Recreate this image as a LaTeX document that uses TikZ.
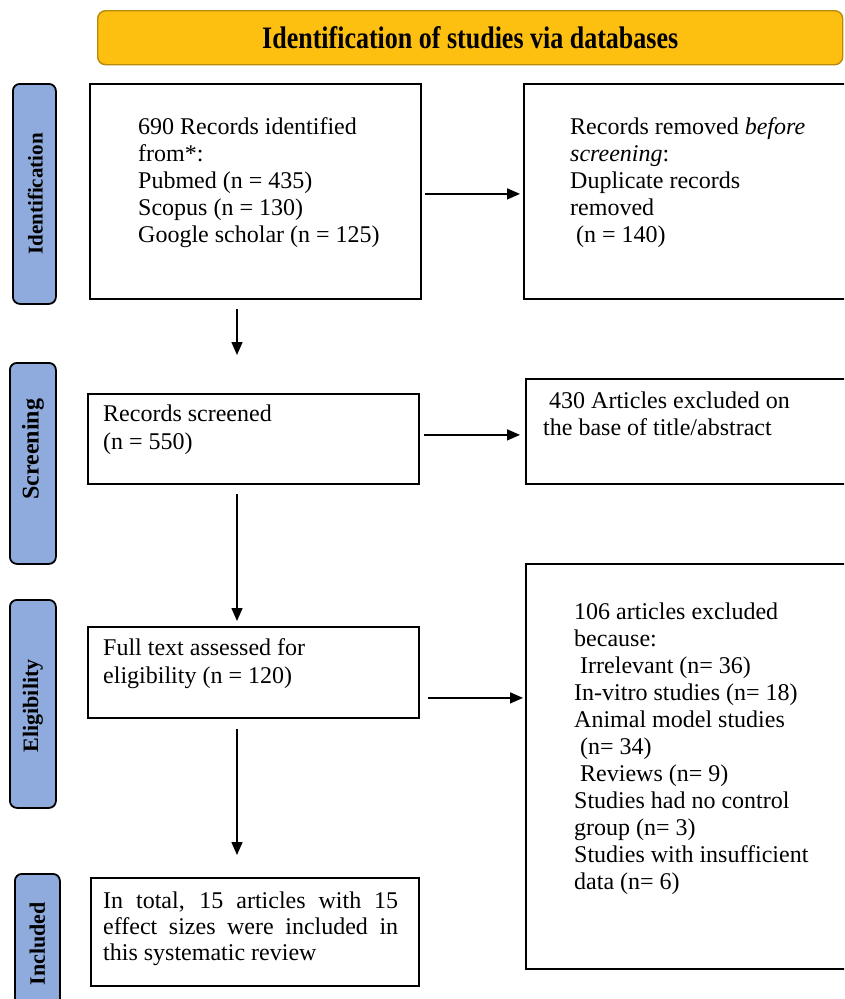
\documentclass[tikz,border=0pt]{standalone}
\usepackage{fontspec}
\usepackage{graphicx}
\setmainfont{Liberation Serif}
\usetikzlibrary{arrows.meta,calc}
\definecolor{bannerfill}{HTML}{FDC010}
\definecolor{bannerdraw}{HTML}{B8890C}
\definecolor{stagefill}{HTML}{8FAADC}
\begin{document}
\begin{tikzpicture}[x=1pt,y=-1pt,
  box/.style={draw=black,line width=1.8pt,inner sep=0pt,anchor=north west},
  banner/.style={draw=bannerdraw,line width=1.4pt,fill=bannerfill,rounded corners=8pt,inner sep=0pt,anchor=north west},
  stage/.style={draw=black,line width=1.8pt,fill=stagefill,rounded corners=7pt,inner sep=0pt,anchor=north west},
  stagetxt/.style={rotate=90,inner sep=0pt},
  txt/.style={anchor=north west,inner sep=0pt,align=left,font=\fontsize{24}{27}\selectfont},
  arr/.style={line width=1.5pt,-{Triangle[length=13pt,width=11pt]}}]
\useasboundingbox (0,0) rectangle (844,999);
\clip (0,0) rectangle (844,999);
\fill[white] (0,0) rectangle (844,999);

% banner
\node[banner,minimum width=745pt,minimum height=54pt] (ban) at (97,10)
  {\fontsize{26}{30}\selectfont\bfseries\scalebox{1}[1.2]{Identification of studies via databases}};

% stage labels
\node[stage,minimum width=43pt,minimum height=220pt] (L1) at (12,83) {};
\node[stage,minimum width=46pt,minimum height=201pt] (L2) at (9,362) {};
\node[stage,minimum width=46pt,minimum height=208pt] (L3) at (9,599) {};
\node[stage,minimum width=45pt,minimum height=140pt] (L4) at (14,873) {};
\node[stagetxt,font=\fontsize{21}{25}\selectfont\bfseries] (s1) at ($(L1.center)+(1,0)$) {Identification};
\node[stagetxt,font=\fontsize{24}{28}\selectfont\bfseries] (s2) at ($(L2.center)+(0,-14)$) {Screening};
\node[stagetxt,font=\fontsize{22}{26}\selectfont\bfseries] (s3) at ($(L3.center)+(0,2)$) {Eligibility};
\node[stagetxt,font=\fontsize{22}{26}\selectfont\bfseries] (s4) at ($(L4.center)+(0,0)$) {Included};

% boxes
\node[box,minimum width=331pt,minimum height=215pt] (b1) at (89,83) {};
\node[box,minimum width=330pt,minimum height=215pt] (b2) at (523,83) {};
\node[box,minimum width=331pt,minimum height=90pt] (b3) at (87,393) {};
\node[box,minimum width=330pt,minimum height=105pt] (b4) at (525,378) {};
\node[box,minimum width=331pt,minimum height=91pt] (b5) at (87,626) {};
\node[box,minimum width=330pt,minimum height=405pt] (b6) at (525,563) {};
\node[box,minimum width=328pt,minimum height=108pt] (b7) at (90,877) {};

% texts
\node[txt] (t1) at (138,115.1) {\strut 690 Records identified\\from*:\\Pubmed (n = 435)\\Scopus (n = 130)\\Google scholar (n = 125)};
\node[txt] (t2) at (570,115.1) {\strut Records removed \textit{before}\\\textit{screening}:\\Duplicate records\\removed\\\hspace*{6pt}(n = 140)};
\node[txt,font=\fontsize{24}{28}\selectfont] (t3) at (103,401.4) {\strut Records screened\\(n = 550)};
\node[txt] (t4) at (543,389.1) {\strut\hspace*{6pt}430 Articles excluded on\\the base of title/abstract};
\node[txt,font=\fontsize{24}{28}\selectfont] (t5) at (103,635.4) {\strut Full text assessed for\\eligibility (n = 120)};
\node[txt] (t6) at (574,600.1) {\strut 106 articles excluded\\because:\\\hspace*{6pt}Irrelevant (n= 36)\\In-vitro studies (n= 18)\\Animal model studies\\\hspace*{6pt}(n= 34)\\\hspace*{6pt}Reviews (n= 9)\\Studies had no control\\group (n= 3)\\Studies with insufficient\\data (n= 6)};
\node[txt,font=\fontsize{24}{26}\selectfont] (t7) at (103,889.8) {\strut\makebox[295pt][s]{In total, 15 articles with 15}\\\makebox[295pt][s]{effect sizes were included in}\\this systematic review};

% connectors
\coordinate (colx) at (237,0);
\draw[arr] ($(b1.east)+(3,2.5)$) -- ($(b2.west)+(-3,2.5)$);
\draw[arr] ($(b3.east)+(4,-4)$) -- ($(b4.west |- b3.east)+(-5,-4)$);
\draw[arr] ($(b5.east)+(8,25.5)$) -- ($(b6.west |- b5.east)+(-2,25.5)$);
\draw[arr] ($(b1.south -| colx)+(0,9)$) -- ($(b3.north -| colx)+(0,-38)$);
\draw[arr] ($(b3.south -| colx)+(0,9)$) -- ($(b5.north -| colx)+(0,-5)$);
\draw[arr] ($(b5.south -| colx)+(0,10)$) -- ($(b7.north -| colx)+(0,-22)$);
\end{tikzpicture}
\end{document}
